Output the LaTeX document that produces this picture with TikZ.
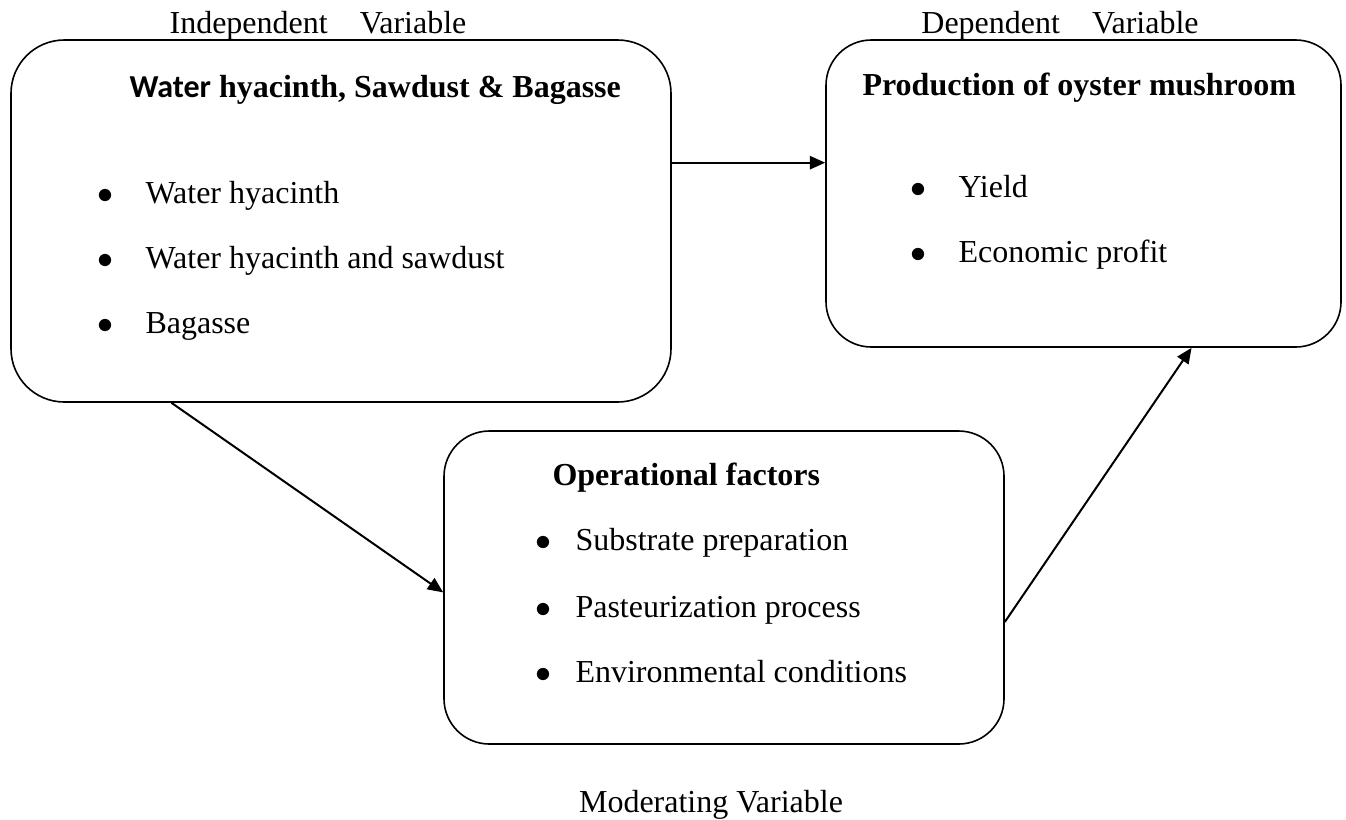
\documentclass[tikz,border=0pt]{standalone}
\usepackage{fontspec}
\setmainfont{Liberation Serif}
\newfontfamily\calibrifont{Carlito}
\usetikzlibrary{arrows.meta,fit}
\tikzset{varbox/.style={draw,line width=0.6pt,rounded corners=17pt,inner sep=0pt}}
\tikzset{flowarrow/.style={line width=0.75pt,-{Triangle[length=5.8pt,width=5pt]}}}
\tikzset{plaintext/.style={inner sep=0pt,anchor=base west,font=\fontsize{12pt}{14pt}\selectfont}}
\tikzset{headtext/.style={plaintext,font=\fontsize{12pt}{14pt}\selectfont\bfseries}}
\newcommand\bulletrow[2]{\makebox[#1][l]{$\bullet$}#2}

\begin{document}
\begin{tikzpicture}[x=0.375pt,y=-0.375pt]
    \useasboundingbox (0,0) rectangle (1346,819);
    % the three boxes
    \node[varbox,rounded corners=20pt,fit={(11,40) (671,402)}] (indep) {};
    \node[varbox,fit={(826,40) (1341,347)}] (dep) {};
    \node[varbox,fit={(444,431) (1004,744)}] (oper) {};
    % labels
    \node[plaintext,anchor=base] (indeplabel) at (318,33) {Independent\quad Variable};
    \node[plaintext,anchor=base] (deplabel) at (1060,33) {Dependent\quad Variable};
    \node[plaintext,anchor=base] (operlabel) at (711,812) {Moderating Variable};
    % independent variable
    \node[headtext] (indephead) at (129,97) {{\calibrifont\bfseries Water} hyacinth, Sawdust \& Bagasse};
    \node[plaintext] (indepa) at (97,203) {\bulletrow{18pt}{Water hyacinth}};
    \node[plaintext] (indepb) at (97,268) {\bulletrow{18pt}{Water hyacinth and sawdust}};
    \node[plaintext] (indepc) at (97,333) {\bulletrow{18pt}{Bagasse}};
    % dependent variable
    \node[headtext] (dephead) at (862,95) {Production of oyster mushroom};
    \node[plaintext] (depa) at (910,197) {\bulletrow{18pt}{Yield}};
    \node[plaintext] (depb) at (910,262) {\bulletrow{18pt}{Economic profit}};
    % moderating variable
    \node[headtext] (operhead) at (552,485) {Operational factors};
    \node[plaintext] (opera) at (535,550) {\bulletrow{15pt}{Substrate preparation}};
    \node[plaintext] (operb) at (535,617) {\bulletrow{15pt}{Pasteurization process}};
    \node[plaintext] (operc) at (535,682) {\bulletrow{15pt}{Environmental conditions}};
    % arrows
    \draw[flowarrow] (indep.10.5) -- (indep.10.5 -| dep.west);
    \draw[flowarrow] (indep.-133.7) -- (oper.181.5);
    \draw[flowarrow] (oper.-7) -- (dep.-55.5);
\end{tikzpicture}
\end{document}
